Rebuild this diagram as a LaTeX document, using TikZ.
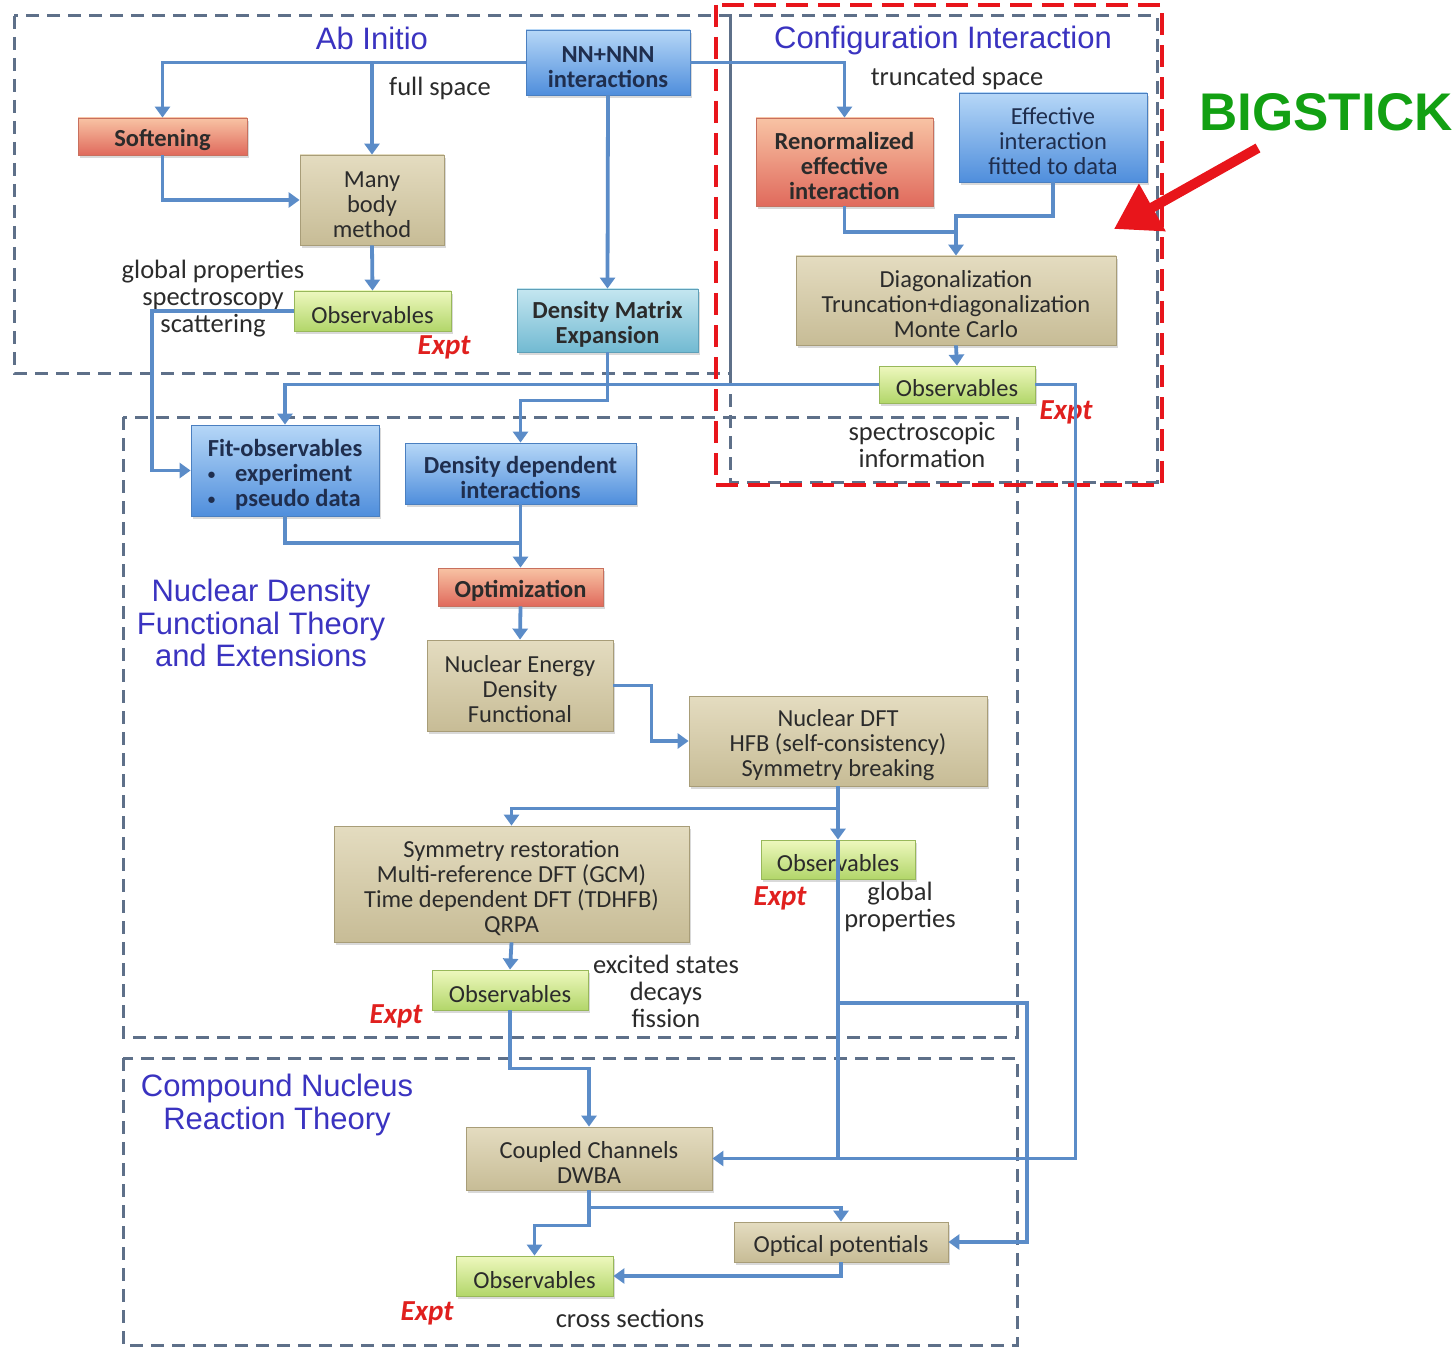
\documentclass[tikz,border=0pt]{standalone}
\usepackage{fontspec}
\setmainfont{Carlito}
\newfontfamily\titlefont{Liberation Sans}
\usetikzlibrary{arrows.meta,shadows}
\definecolor{conn}{HTML}{5B8CC8}
\definecolor{frameC}{HTML}{5E7089}
\definecolor{redF}{HTML}{E8151B}
\definecolor{titleC}{HTML}{3A33C0}
\definecolor{txt}{HTML}{2B2B2B}
\definecolor{navy}{HTML}{1F2E4E}
\definecolor{blueT}{HTML}{B6D7F7}
\definecolor{blueB}{HTML}{4F8EDC}
\definecolor{blueD}{HTML}{4A7FC0}
\definecolor{redT}{HTML}{F8C3A4}
\definecolor{redB}{HTML}{E06A5C}
\definecolor{redD}{HTML}{C8705E}
\definecolor{tanT}{HTML}{E4DCC0}
\definecolor{tanB}{HTML}{C7BC96}
\definecolor{tanD}{HTML}{A89D78}
\definecolor{grnT}{HTML}{EEF8BE}
\definecolor{grnB}{HTML}{B2D66A}
\definecolor{grnD}{HTML}{98B85A}
\definecolor{tealT}{HTML}{C4E6F0}
\definecolor{tealB}{HTML}{72BAD2}
\definecolor{tealD}{HTML}{5E9FB8}
\definecolor{expt}{HTML}{E0201E}
\definecolor{bigG}{HTML}{12A012}
\newcommand\mybx{\fontsize{24.5}{25}\selectfont}
\newcommand\mylb{\fontsize{26.5}{27}\selectfont}
\newcommand\myti{\titlefont\fontsize{31}{32.5}\selectfont}
\newcommand\myex{\fontsize{29}{30}\selectfont\bfseries\itshape}
\newcommand\smbul{{\fontsize{15}{15}\selectfont\raisebox{2pt}{\textbullet}}}
\begin{document}
\begin{tikzpicture}[x=1pt,y=-1pt,
  nlines/.style={execute at begin node={\rule{0pt}{#1}}},
  box/.style={rectangle, align=center, inner sep=2pt, text=txt, font=\mybx, line width=0.8pt,
    nlines=25pt,
    drop shadow={opacity=0.3, shadow xshift=2pt, shadow yshift=-3pt}},
  bluebox/.style={box, top color=blueT, bottom color=blueB, draw=blueD, font=\mybx\bfseries, text=navy},
  blueboxl/.style={box, top color=blueT, bottom color=blueB, draw=blueD, text=navy},
  redbox/.style={box, top color=redT, bottom color=redB, draw=redD, font=\mybx\bfseries},
  tanbox/.style={box, top color=tanT, bottom color=tanB, draw=tanD},
  grnbox/.style={box, top color=grnT, bottom color=grnB, draw=grnD},
  tealbox/.style={box, top color=tealT, bottom color=tealB, draw=tealD, font=\mybx\bfseries},
  two/.style={nlines=50pt},
  three/.style={nlines=75pt},
  four/.style={nlines=100pt},
  line/.style={draw=conn, line width=3.8pt},
  conn/.style={line, -{Triangle[width=15pt,length=11pt]}},
  frame/.style={draw=frameC, line width=3pt, dash pattern=on 13pt off 8pt},
  redframe/.style={draw=redF, line width=4.5pt, dash pattern=on 22pt off 10pt},
  title/.style={font=\myti, text=titleC, align=center},
  lbl/.style={font=\mylb, text=txt, align=center},
  ex/.style={font=\myex, text=expt},
]
\useasboundingbox (0,0) rectangle (1456,1348);
% frames
\draw[frame] (14,16) rectangle (730,373);
\draw[frame] (730,16) rectangle (1157,482);
\draw[frame] (123,417) rectangle (1017,1037);
\draw[frame] (123,1058) rectangle (1017,1345);
\draw[redframe] (716,5) rectangle (1162,485);

% titles
\node[title] (tAb) at (372,38) {Ab Initio};
\node[title] (tCI) at (943,40) {Configuration Interaction};
\node[title] (tDFT) at (261,623) {Nuclear Density\\Functional Theory\\and Extensions};
\node[title] (tCN) at (277,1105) {Compound Nucleus\\Reaction Theory};

% boxes
\node[bluebox, two, minimum width=164, minimum height=65] (nn) at (608,62.5) {NN+NNN\\interactions};
\node[redbox, minimum width=169, minimum height=37] (soft) at (162.5,136.5) {Softening};
\node[tanbox, three, minimum width=144, minimum height=90] (mbm) at (372,200) {Many\\body\\method};
\node[grnbox, minimum width=157, minimum height=40] (obsA) at (372.5,311) {Observables};
\node[tealbox, two, minimum width=181, minimum height=63] (dme) at (607.5,320.5) {Density Matrix\\Expansion};
\node[redbox, three, minimum width=177, minimum height=88] (ren) at (844.5,162) {Renormalized\\effective\\interaction};
\node[blueboxl, three, minimum width=188, minimum height=89] (eff) at (1053,137.5) {Effective\\interaction\\fitted to data};
\node[tanbox, three, minimum width=320, minimum height=89] (diag) at (956,300.5) {Diagonalization\\Truncation+diagonalization\\Monte Carlo};
\node[grnbox, minimum width=156, minimum height=37] (obsC) at (957,384.5) {Observables};
\node[bluebox, three, minimum width=188, minimum height=91, align=left] (fit) at (285,470.5) {Fit-observables\\
  \smbul\hspace{20pt}experiment\\\smbul\hspace{20pt}pseudo data};
\node[bluebox, two, minimum width=231, minimum height=61] (dens) at (520.5,473.5) {Density dependent\\interactions};
\node[redbox, minimum width=165, minimum height=38] (opt) at (520.5,587) {Optimization};
\node[tanbox, three, minimum width=186, minimum height=91] (nedf) at (520,685.5) {Nuclear Energy\\Density\\Functional};
\node[tanbox, three, minimum width=298, minimum height=90] (ndft) at (838,741) {Nuclear DFT\\HFB (self-consistency)\\Symmetry breaking};
\node[tanbox, four, minimum width=355, minimum height=116] (sym) at (511.5,884) {Symmetry restoration\\Multi-reference DFT (GCM)\\Time dependent DFT (TDHFB)\\QRPA};
\node[grnbox, minimum width=154, minimum height=39] (obsD) at (838,859.5) {Observables};
\node[grnbox, minimum width=156, minimum height=40] (obsS) at (510,990) {Observables};
\node[tanbox, two, minimum width=246, minimum height=63] (cc) at (589,1158.5) {Coupled Channels\\DWBA};
\node[tanbox, minimum width=214, minimum height=40] (optp) at (841,1242) {Optical potentials};
\node[grnbox, minimum width=157, minimum height=40] (obsR) at (534.5,1276) {Observables};

% labels
\node[lbl] (lfull) at (440,88) {full space};
\node[lbl, align=center] (lglob) at (213,299) {global properties\\spectroscopy\\scattering};
\node[ex] (eA) at (444,347) {Expt};
\node[lbl] (ltrunc) at (957,78) {truncated space};
\node[ex] (eC) at (1066,412) {Expt};
\node[lbl] (lspec) at (922,445) {spectroscopic\\information};
\node[ex] (eD) at (780,898) {Expt};
\node[lbl] (lglob2) at (900,907) {global\\properties};
\node[lbl] (lexc) at (666,991) {excited states\\decays\\fission};
\node[ex] (eS) at (396,1016) {Expt};
\node[ex] (eR) at (427,1313) {Expt};
\node[lbl] (lcross) at (630,1318) {cross sections};

% connectors
\draw[conn] (nn.west) -| (soft.north);
\draw[conn] (mbm.north |- nn.west) -- (mbm.north);
\draw[conn] (nn.east) -| (ren.north);
\draw[conn] (nn.south) -- (dme.north);
\draw[conn] (soft.south) |- (mbm.west);
\draw[conn] (mbm.south) -- (obsA.north);
\draw[conn] (obsA.west) -- ++(-142,0) |- (fit.west);
\draw[conn] (dme.south) -- ++(0,48) -| (dens.north);
\draw[conn] (obsC.west) -| (fit.north);
\draw[conn] (obsC.east) -- ++(40,0) |- (cc.east);
\coordinate (dj) at (956,232);
\draw[line] (ren.south) |- (dj);
\draw[line] (eff.south) |- (956,216) -- (dj);
\draw[conn] (dj) -- (diag.north);
\draw[conn] (diag.south) -- (obsC.north);
\draw[line] (fit.south) |- (520.5,543);
\draw[conn] (dens.south) -- (opt.north);
\draw[conn] (opt.south) -- (nedf.north);
\draw[conn] (nedf.east) -- ++(38,0) |- (ndft.west);
\draw[conn] (ndft.south) -- (obsD.north);
\draw[line] (obsD.north) -- (obsD.north |- cc.east);
\draw[conn] (ndft.south) -- ++(0,22) -| (sym.north);
\coordinate (j1) at (838,1003);
\draw[conn] (j1) -- (1027,1003) |- (optp.east);
\draw[conn] (sym.south) -- (obsS.north);
\draw[conn] (obsS.south) -- ++(0,58) -| (cc.north);
\draw[conn] (cc.south) -- ++(0,17) -| (optp.north);
\draw[conn] (cc.south) -- ++(0,35) -| (obsR.north);
\draw[conn] (optp.south) |- (obsR.east);

% BIGSTICK
\node[font=\titlefont\bfseries\fontsize{53}{56}\selectfont, text=bigG] (big) at (1326,112) {BIGSTICK};
\coordinate (bs0) at (1258,148);
\coordinate (bs1) at (1114,229);
\draw[draw=redF, line width=10pt, -{Triangle[width=52pt,length=44pt]}] (bs0) -- (bs1);
\end{tikzpicture}
\end{document}
